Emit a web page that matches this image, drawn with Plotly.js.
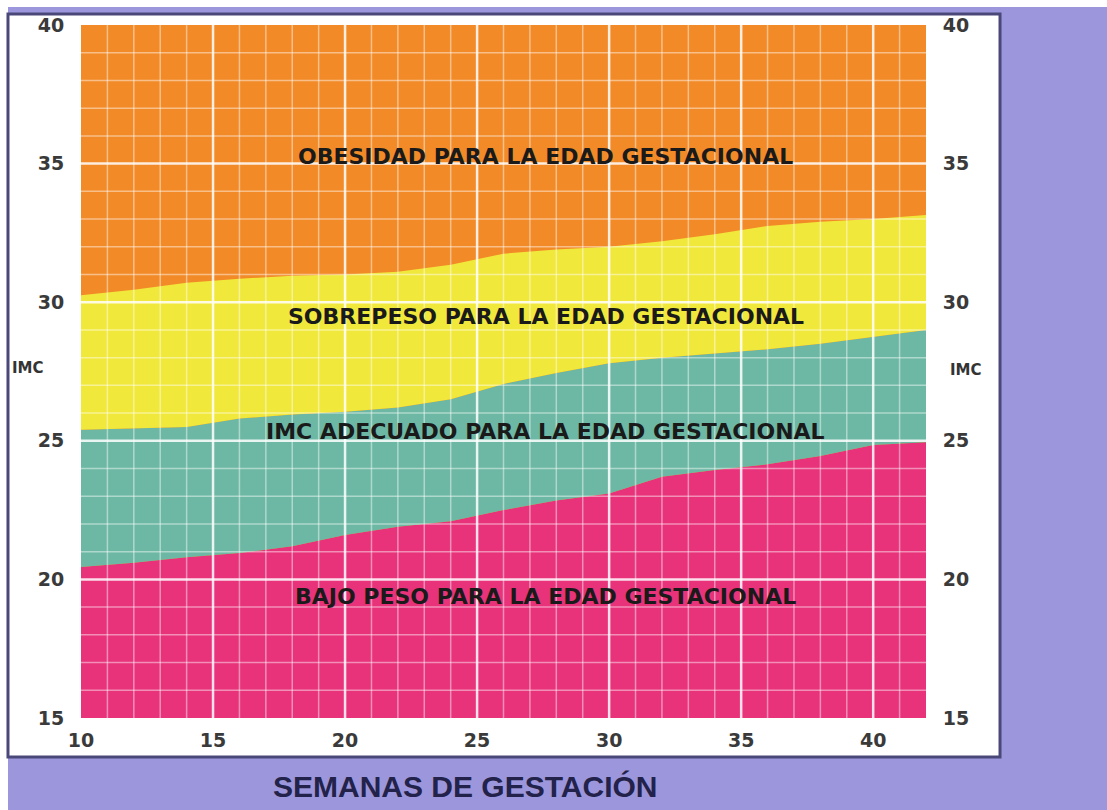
<!DOCTYPE html>
<html>
<head>
<meta charset="utf-8">
<script src="https://cdn.plot.ly/plotly-3.0.1.min.js"></script>
<style>html,body{margin:0;padding:0;background:#fff;}#chart{width:1107px;height:810px;}</style>
</head>
<body>
<div id="chart"></div>
<script>
// Semanas de gestación (eje X)
const weeks = [10, 12, 14, 16, 18, 20, 22, 24, 26, 28, 30, 32, 34, 36, 38, 40, 42];
// Límite superior de cada zona (IMC)
const bajoPesoTop  = [20.45, 20.6, 20.8, 20.95, 21.2, 21.6, 21.9, 22.1, 22.5, 22.85, 23.1, 23.7, 23.95, 24.15, 24.45, 24.85, 24.95];
const adecuadoTop  = [25.4, 25.45, 25.5, 25.8, 25.95, 26.05, 26.2, 26.5, 27.05, 27.45, 27.8, 28.0, 28.15, 28.3, 28.5, 28.75, 29.0];
const sobrepesoTop = [30.25, 30.45, 30.7, 30.85, 30.95, 31.0, 31.1, 31.35, 31.75, 31.9, 32.0, 32.2, 32.45, 32.75, 32.9, 33.0, 33.15];
// Ejes
const xRange = [10, 42];
const yRange = [15, 40];
const xTicks = [10, 15, 20, 25, 30, 35, 40];
const yTicks = [15, 20, 25, 30, 35, 40];
// Textos
const zoneLabels = ['OBESIDAD PARA LA EDAD GESTACIONAL', 'SOBREPESO PARA LA EDAD GESTACIONAL', 'IMC ADECUADO PARA LA EDAD GESTACIONAL', 'BAJO PESO PARA LA EDAD GESTACIONAL'];
const zoneLabelY = [35.25, 29.5, 25.32, 19.37];
const zoneLabelX = 27.6;
const yTitle = 'IMC';
const xTitle = 'SEMANAS DE GESTACIÓN';

const C = {orange:'#f28a28', yellow:'#f1e83c', teal:'#6db8a4', pink:'#e8337b', purple:'#9c97dc'};

const traces = [
  {x: weeks, y: bajoPesoTop, mode:'lines', line:{width:0}, fill:'tozeroy', fillcolor:C.pink, hoverinfo:'skip', showlegend:false},
  {x: weeks, y: adecuadoTop, mode:'lines', line:{width:0}, fill:'tonexty', fillcolor:C.teal, hoverinfo:'skip', showlegend:false},
  {x: weeks, y: sobrepesoTop, mode:'lines', line:{width:0}, fill:'tonexty', fillcolor:C.yellow, hoverinfo:'skip', showlegend:false},
  {x: weeks, y: sobrepesoTop, yaxis:'y2', mode:'lines', line:{width:0}, opacity:0, hoverinfo:'skip', showlegend:false}
];

const shapes = [];
// marco morado exterior
const P = {fillcolor:C.purple, line:{width:0}, xref:'paper', yref:'paper', type:'rect', layer:'below'};
shapes.push(Object.assign({}, P, {x0:1.0876, x1:1.25, y0:-0.2, y1:1.026}));
shapes.push(Object.assign({}, P, {x0:-0.0864, x1:1.25, y0:-0.2, y1:-0.0563}));
shapes.push(Object.assign({}, P, {x0:-0.0864, x1:1.25, y0:1.0159, y1:1.026}));
shapes.push({type:'rect', xref:'paper', yref:'paper', x0:-0.0864, x1:1.0876, y0:-0.0563, y1:1.0159,
  line:{color:'#4a4878', width:3}, fillcolor:'rgba(0,0,0,0)', layer:'above'});
// cuadrícula blanca por encima de las zonas
for (let w = xRange[0] + 1; w < xRange[1]; w++) {
  const major = w % 5 === 0;
  shapes.push({type:'line', xref:'x', yref:'paper', x0:w, x1:w, y0:0, y1:1, layer:'above',
    line:{color: major ? 'rgba(255,255,255,0.85)' : 'rgba(255,255,255,0.45)', width: major ? 2.5 : 1.5}});
}
for (let v = yRange[0] + 1; v < yRange[1]; v++) {
  const major = v % 5 === 0;
  shapes.push({type:'line', xref:'paper', yref:'y', x0:0, x1:1, y0:v, y1:v, layer:'above',
    line:{color: major ? 'rgba(255,255,255,0.85)' : 'rgba(255,255,255,0.45)', width: major ? 2.5 : 1.5}});
}

const tickFont = {family:'DejaVu Sans', size:19, color:'#3a3a3a', weight:'bold'};
const annotations = zoneLabels.map((t, i) => ({
  text: t, x: zoneLabelX, y: zoneLabelY[i], xref:'x', yref:'y', showarrow:false,
  xanchor:'center', yanchor:'middle',
  font:{family:'DejaVu Sans', size:22, color:'#1a1a1a', weight:'bold'}
}));
annotations.push({text: yTitle, xref:'paper', yref:'paper', x:(28-81)/845, y:(718-368)/693, showarrow:false,
  xanchor:'center', yanchor:'middle', font:{family:'DejaVu Sans', size:15, color:'#333', weight:'bold'}});
annotations.push({text: yTitle, xref:'paper', yref:'paper', x:(966-81)/845, y:(718-370)/693, showarrow:false,
  xanchor:'center', yanchor:'middle', font:{family:'DejaVu Sans', size:15, color:'#333', weight:'bold'}});
annotations.push({text: xTitle, xref:'paper', yref:'paper', x:(465-81)/845, y:(718-786)/693, showarrow:false,
  xanchor:'center', yanchor:'middle', font:{family:'Liberation Sans', size:30, color:'#22224a', weight:'bold'}});

const layout = {
  width:1107, height:810,
  margin:{l:81, r:181, t:25, b:92, pad:0},
  paper_bgcolor:'#ffffff',
  plot_bgcolor:C.orange,
  showlegend:false,
  xaxis:{range:xRange, tickvals:xTicks, showgrid:false, zeroline:false, showline:false,
    ticks:'outside', ticklen:5, tickcolor:'rgba(0,0,0,0)', tickfont:tickFont, fixedrange:true},
  yaxis:{range:yRange, tickvals:yTicks, showgrid:false, zeroline:false, showline:false,
    ticks:'outside', ticklen:12, tickcolor:'rgba(0,0,0,0)', tickfont:tickFont, fixedrange:true},
  yaxis2:{range:yRange, tickvals:yTicks, overlaying:'y', side:'right', showgrid:false, zeroline:false, showline:false,
    ticks:'outside', ticklen:12, tickcolor:'rgba(0,0,0,0)', tickfont:tickFont, fixedrange:true},
  shapes: shapes,
  annotations: annotations
};

Plotly.newPlot('chart', traces, layout, {displayModeBar:false, staticPlot:true});
</script>
</body>
</html>
